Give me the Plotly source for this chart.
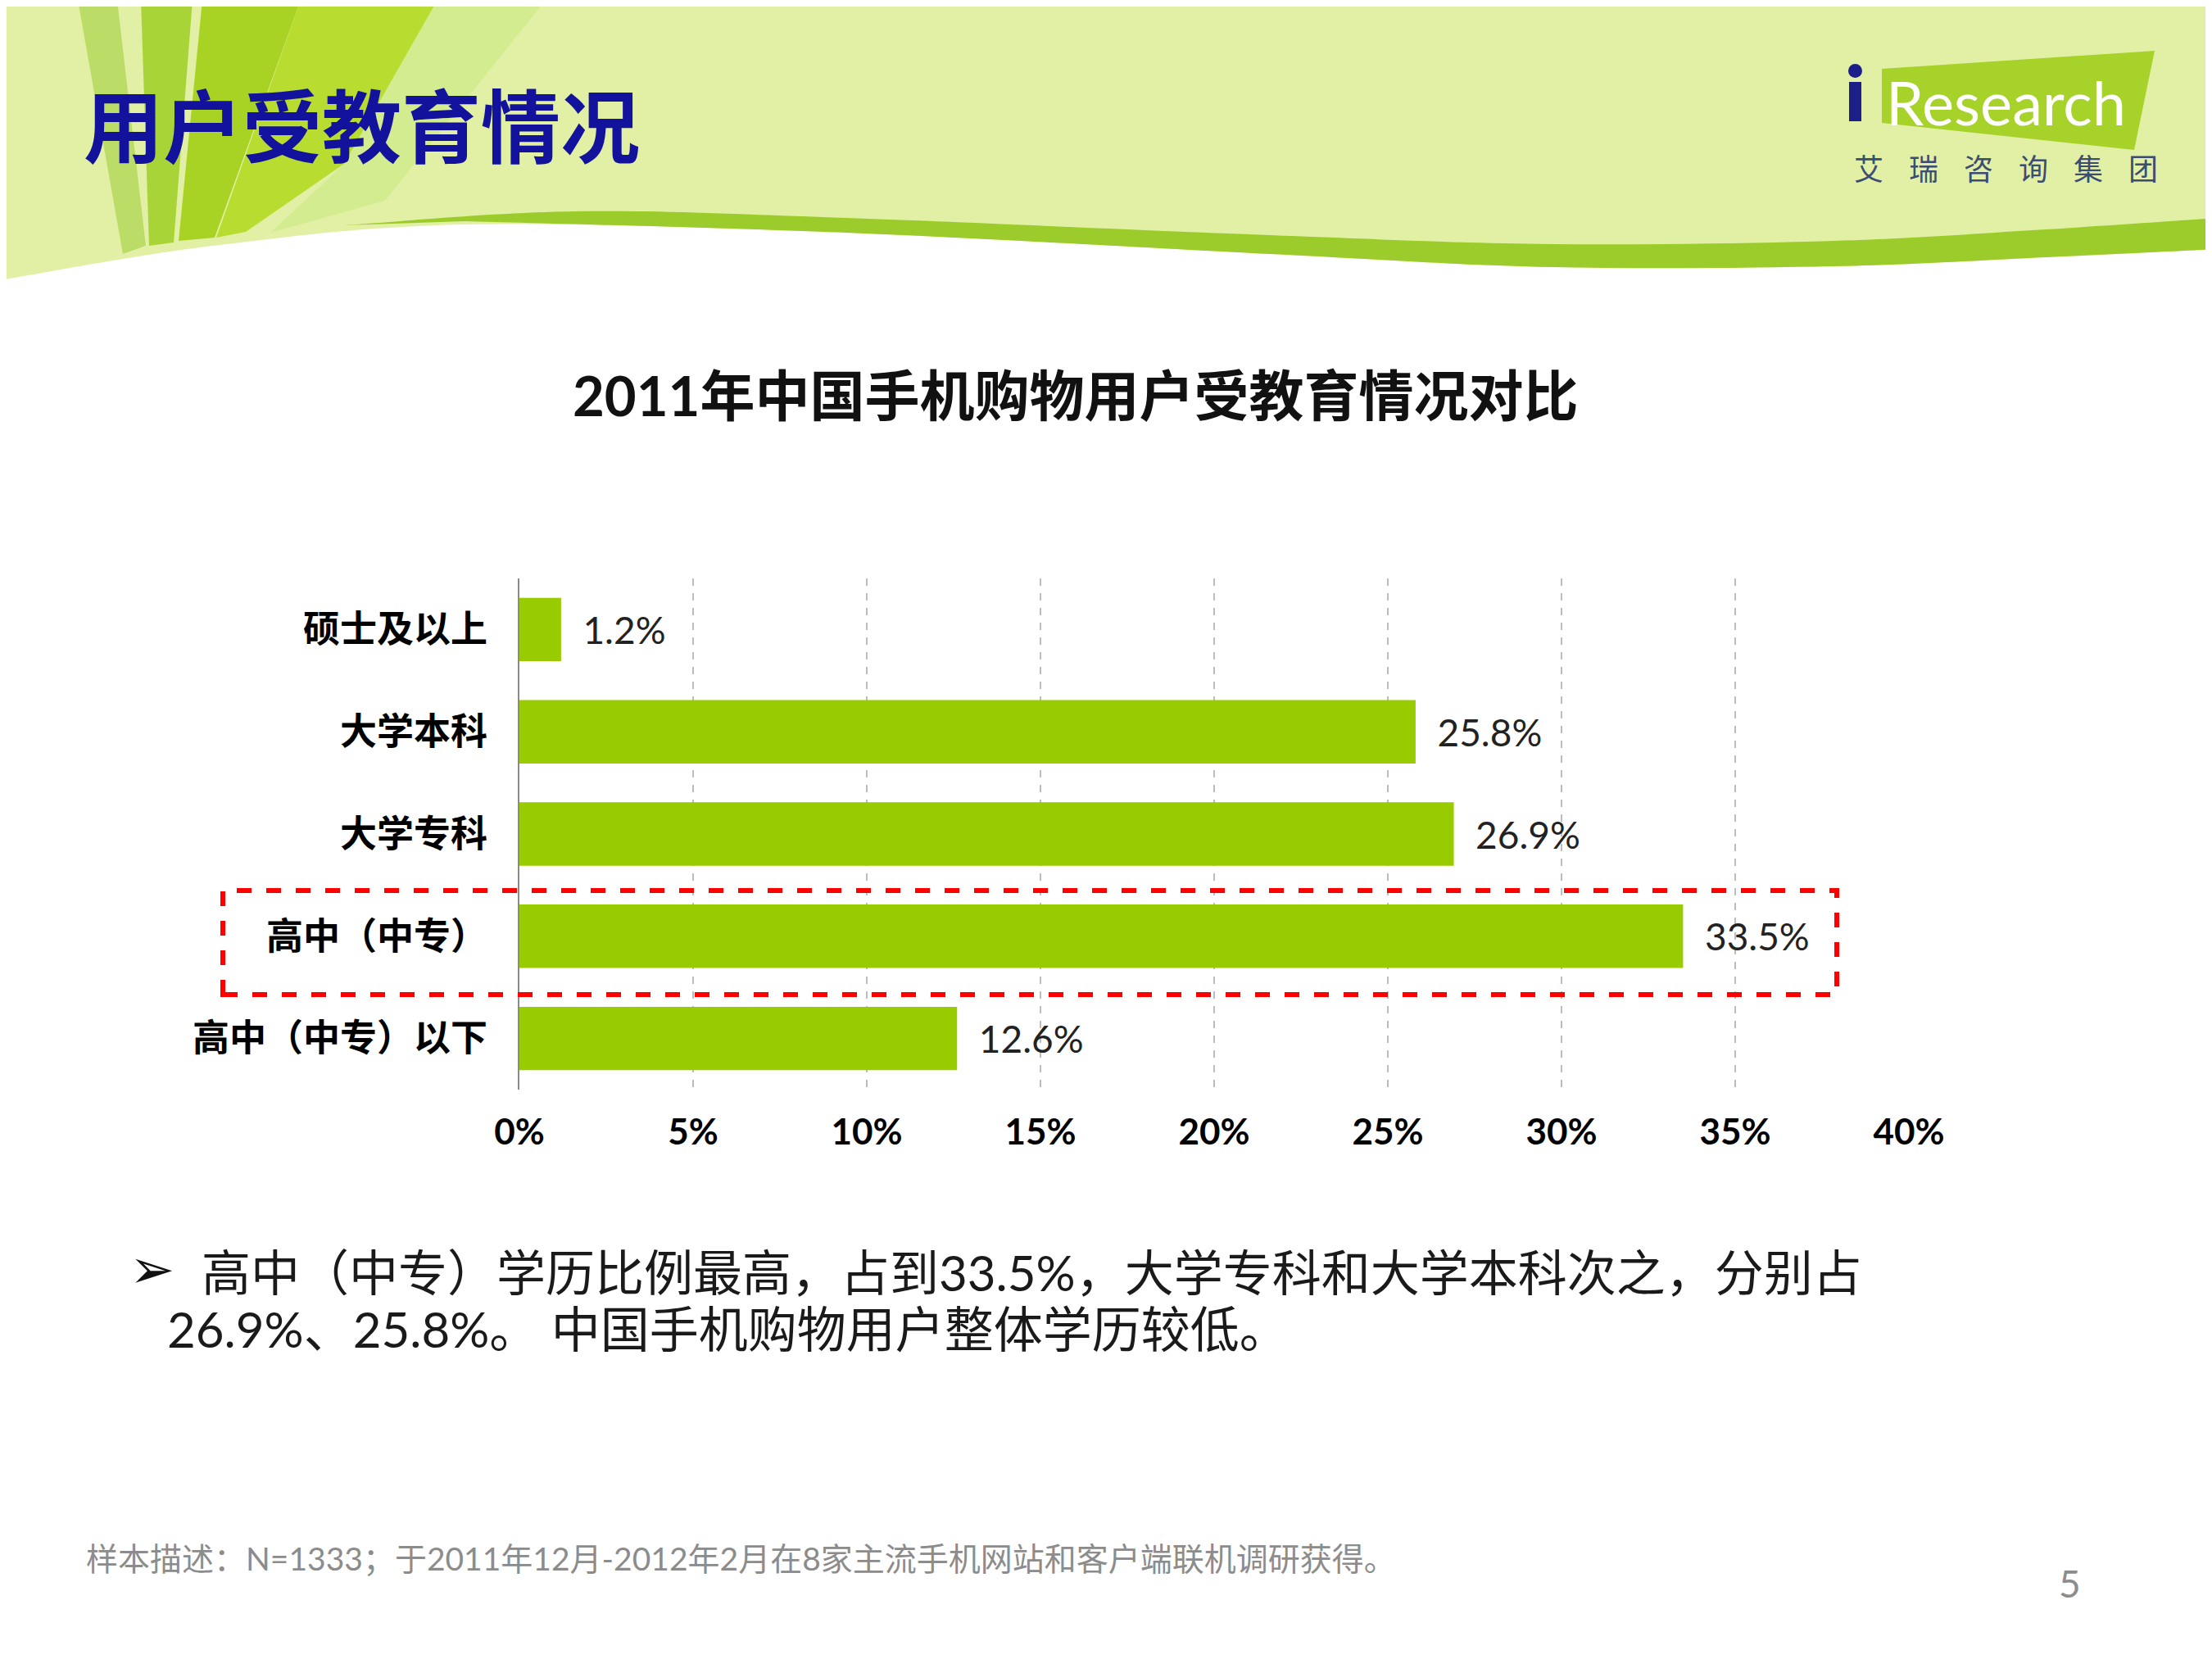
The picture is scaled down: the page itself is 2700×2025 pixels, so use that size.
import plotly.graph_objects as go

W, H = 2700, 2025
OFF = 8  # page body margin, pulled back so things land where the slide has them

categories = ['硕士及以上', '大学本科', '大学专科', '高中（中专）', '高中（中专）以下']
values = [1.2, 25.8, 26.9, 33.5, 12.6]
tick_vals = [0, 5, 10, 15, 20, 25, 30, 35, 40]
tick_text = ['0%', '5%', '10%', '15%', '20%', '25%', '30%', '35%', '40%']

page_title = '用户受教育情况'
chart_title = '2011年中国手机购物用户受教育情况对比'
bullet_line1 = '高中（中专）学历比例最高，占到33.5%，大学专科和大学本科次之，分别占'
bullet_line2 = '26.9%、25.8%。 中国手机购物用户整体学历较低。'
footnote = '样本描述：N=1333；于2011年12月-2012年2月在8家主流手机网站和客户端联机调研获得。'
logo_cn = ['艾', '瑞', '咨', '询', '集', '团']
page_no = '5'

CJK = 'Noto Sans CJK SC'
LAT = 'Lato, Noto Sans CJK SC'


def px(x):
    return (x - OFF) / W


def py(y):
    return 1 - (y - OFF) / H


def smooth(pts):
    # catmull-rom through the points -> svg cubic path (paper coords)
    s = ''
    for i in range(len(pts) - 1):
        p0 = pts[i - 1] if i > 0 else pts[i]
        p1, p2 = pts[i], pts[i + 1]
        p3 = pts[i + 2] if i + 2 < len(pts) else pts[i + 1]
        c1 = (p1[0] + (p2[0] - p0[0]) / 6, p1[1] + (p2[1] - p0[1]) / 6)
        c2 = (p2[0] - (p3[0] - p1[0]) / 6, p2[1] - (p3[1] - p1[1]) / 6)
        s += ' C {:.5f},{:.5f} {:.5f},{:.5f} {:.5f},{:.5f}'.format(
            px(c1[0]), py(c1[1]), px(c2[0]), py(c2[1]), px(p2[0]), py(p2[1]))
    return s


def poly(pts):
    return 'M ' + ' L '.join('{:.5f},{:.5f}'.format(px(a), py(b)) for a, b in pts) + ' Z'


fig = go.Figure()

fig.add_trace(go.Bar(
    x=values, y=categories, orientation='h',
    marker=dict(color='#99cc00', line=dict(width=0)),
    texttemplate='  %{x:.1f}%', textposition='outside',
    textfont=dict(family=LAT, size=46, color='#222222'),
    cliponaxis=False, width=0.62,
))

# header background
top_edge = [(0, 342), (260, 300), (568, 274), (1033, 284), (1550, 310),
            (1894, 326), (2239, 325), (2497, 314), (2708, 304)]
band_top = [(2708, 266), (2497, 280), (2239, 294), (1894, 298), (1550, 287),
            (1033, 266), (700, 258), (420, 275)]
header_path = 'M {:.5f},{:.5f} L {:.5f},{:.5f} L {:.5f},{:.5f}'.format(
    px(0), py(0), px(2708), py(0), px(2708), py(top_edge[-1][1]))
header_path += smooth(top_edge[::-1]) + ' Z'

band_pts = [p for p in top_edge if p[0] >= 420]
band_path = 'M {:.5f},{:.5f}'.format(px(band_pts[0][0]), py(band_pts[0][1] - 4))
band_path += smooth([(band_pts[0][0], band_pts[0][1] - 4)] + band_pts[1:])
band_path += ' L {:.5f},{:.5f}'.format(px(band_top[0][0]), py(band_top[0][1]))
band_path += smooth(band_top) + ' Z'


def deco(pts, color, op=0.9):
    return dict(type='path', path=poly(pts), xref='paper', yref='paper',
                fillcolor=color, opacity=op, line=dict(width=0), layer='below')


shapes = [
    dict(type='path', path=header_path, xref='paper', yref='paper',
         fillcolor='#e2f0a6', line=dict(width=0), layer='below'),
    deco([(534, 0), (666, 0), (470, 245), (330, 284), (420, 200)], '#d3eb8e'),
    deco([(95, 0), (143, 0), (178, 300), (150, 310)], '#b7da62'),
    deco([(172, 0), (235, 0), (212, 296), (182, 300)], '#a3d02c'),
    deco([(247, 0), (367, 0), (262, 290), (218, 294)], '#a2cf16'),
    deco([(367, 0), (534, 0), (420, 200), (300, 283), (264, 290)], '#b4da24'),
    dict(type='path', path=band_path, xref='paper', yref='paper',
         fillcolor='#9ccc2c', line=dict(width=0), layer='below'),
    # logo block
    deco([(2297, 84), (2630, 62), (2605, 183), (2297, 150)], '#a6d22a', 1),
    dict(type='rect', x0=px(2257), x1=px(2272), y0=py(148), y1=py(100), xref='paper', yref='paper',
         fillcolor='#1c1f8a', line=dict(width=0), layer='below'),
    dict(type='circle', x0=px(2256), x1=px(2273), y0=py(95), y1=py(78), xref='paper', yref='paper',
         fillcolor='#1c1f8a', line=dict(width=0), layer='below'),
    # highlight box
    dict(type='rect', x0=px(272), x1=px(2242), y0=py(1214), y1=py(1087), xref='paper', yref='paper',
         line=dict(color='#ff0000', width=6, dash='dash'), layer='above'),
]


def note(text, x, y, size, color, family=LAT, anchor='left'):
    return dict(text=text, x=px(x), y=py(y), xref='paper', yref='paper',
                xanchor=anchor, yanchor='middle', showarrow=False,
                font=dict(family=family, size=size, color=color))


annotations = [
    note('<b>' + page_title + '</b>', 100, 149, 97, '#12129c', CJK),
    note('Research', 2300, 124, 74, 'white', 'Lato'),
    note('<b>' + chart_title + '</b>', 1312, 482, 67, '#111111', LAT, 'center'),
    note('<b>➢</b>', 156, 1549, 66, '#111111', 'DejaVu Sans'),
    note(bullet_line1, 244, 1553, 60, '#1a1a1a'),
    note(bullet_line2, 202, 1622, 60, '#1a1a1a'),
    note(footnote, 103, 1902, 39, '#8c8c8c'),
    note(page_no, 2526, 1932, 46, '#8c8c8c', LAT, 'center'),
]
for i, ch in enumerate(logo_cn):
    annotations.append(note(ch, 2261 + i * 67, 204, 36, '#3d4d72', CJK))

fig.update_layout(
    width=W, height=H,
    margin=dict(l=0, r=0, t=0, b=0, autoexpand=False),
    paper_bgcolor='white', plot_bgcolor='rgba(0,0,0,0)',
    showlegend=False, bargap=0.38,
    shapes=shapes, annotations=annotations,
    xaxis=dict(domain=[px(634), px(2330)], range=[0, 40], automargin=False,
               tickvals=tick_vals, ticktext=tick_text,
               tickfont=dict(family=LAT, size=44, color='#000000', weight='bold'),
               showgrid=True, gridcolor='#bdbdbd', gridwidth=2, griddash='dash',
               zeroline=False, showline=False, ticks='', ticklabelstandoff=22, fixedrange=True),
    yaxis=dict(domain=[py(1330), py(706)], autorange='reversed', automargin=False,
               tickfont=dict(family=CJK, size=45, color='#000000', weight='bold'),
               showgrid=False, zeroline=False, showline=True, linecolor='#8a8a8a', linewidth=2,
               ticks='', ticklabelstandoff=28),
)

fig.write_html('out.html')
